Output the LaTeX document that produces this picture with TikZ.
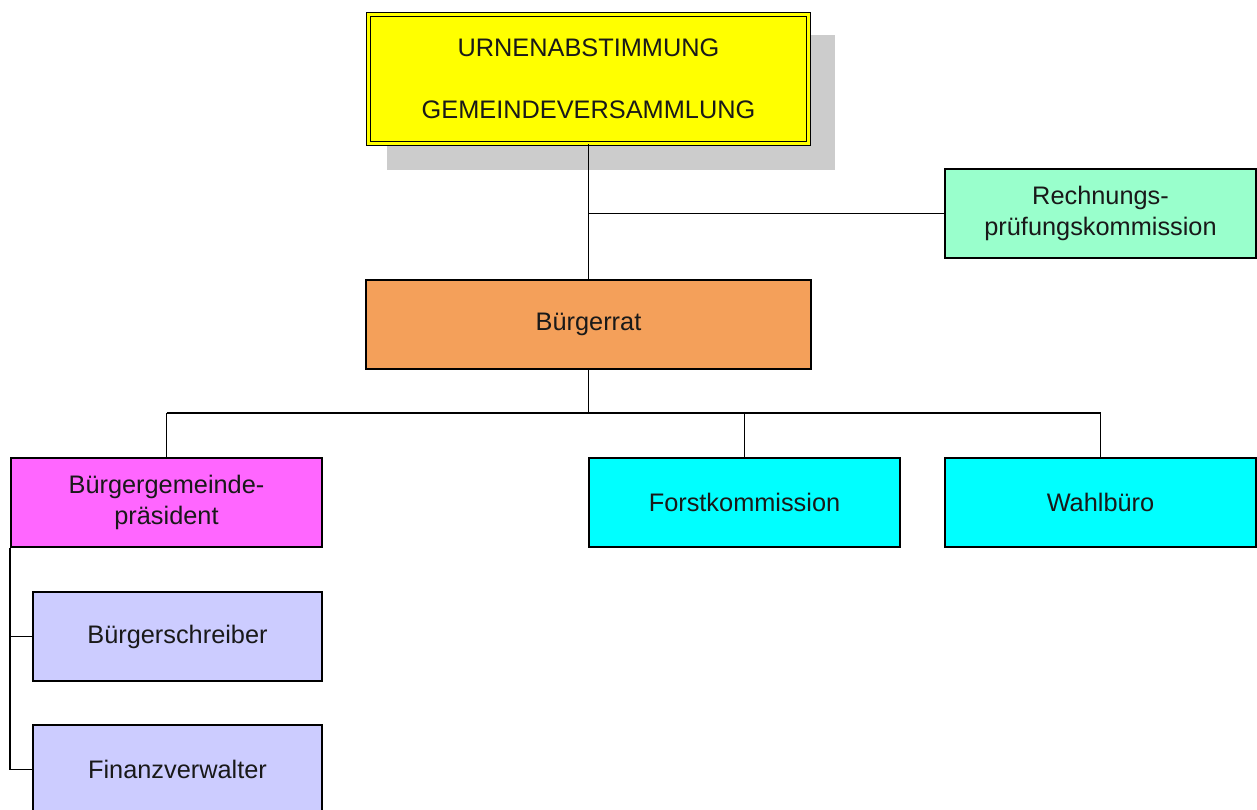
\documentclass[tikz,border=0pt]{standalone}
\usepackage{fontspec}
\setmainfont{Liberation Sans}
\usetikzlibrary{backgrounds}
\definecolor{cyellow}{RGB}{255,255,0}
\definecolor{cgreen}{RGB}{153,255,204}
\definecolor{corange}{RGB}{244,160,90}
\definecolor{cmagenta}{RGB}{255,102,255}
\definecolor{ccyan}{RGB}{0,255,255}
\definecolor{clav}{RGB}{204,204,255}
\definecolor{cshadow}{RGB}{204,204,204}
\tikzset{
  box/.style={draw=black, line width=1pt, rectangle, inner sep=0pt, align=center,
    font=\fontsize{19}{23.25}\selectfont, text=black!90},
  wide/.style={minimum width=333.75pt, minimum height=66.75pt},
  mid/.style={minimum width=233.25pt, minimum height=66.75pt},
  small/.style={minimum width=216.75pt, minimum height=66.75pt},
  conn/.style={draw=black, line width=1.4pt},
}
\begin{document}
\begin{tikzpicture}[x=0.75pt,y=-0.75pt]
\useasboundingbox (0,0) rectangle (1257,810);
% nodes
\node[box, minimum width=330pt, minimum height=96.7pt, fill=cyellow, double=cyellow, draw=black, double distance=2.2pt, line width=0.8pt] (top) at (588.5,79) {URNENABSTIMMUNG\\[23.25pt]GEMEINDEVERSAMMLUNG};
\node[box, mid, fill=cgreen] (rech) at (1100.5,213.5) {Rechnungs-\\prüfungskommission};
\node[box, wide, fill=corange] (rat) at (588.5,324.5) {Bürgerrat};
\node[box, mid, fill=cmagenta] (bgp) at (166.5,502.5) {Bürgergemeinde-\\präsident};
\node[box, mid, fill=ccyan] (forst) at (744.5,502.5) {Forstkommission};
\node[box, mid, fill=ccyan] (wahl) at (1100.5,502.5) {Wahlbüro};
\node[box, small, fill=clav] (schr) at (177.5,636.5) {Bürgerschreiber};
\node[box, small, fill=clav] (fin) at (177.5,769.5) {Finanzverwalter};
% shadow
\begin{pgfonlayer}{background}
\fill[cshadow] ([shift={(19.5,25.5)}]top.south west) rectangle ([shift={(25.5,20.5)}]top.north east);
\end{pgfonlayer}
% connectors
\coordinate (j1) at (top.south |- rech.west);
\coordinate (j2) at (588.5,413);
\coordinate (l) at (bgp.north |- j2);
\coordinate (r) at (wahl.north |- j2);
\coordinate (fj) at (forst.north |- j2);
\coordinate (b1) at (bgp.south west |- schr.west);
\coordinate (b2) at (bgp.south west |- fin.west);
\draw[conn] (top.south) -- (rat.north);
\draw[conn] (j1) -- (rech.west);
\draw[conn] (rat.south) -- (j2);
\draw[conn] (l) -- (r);
\draw[conn] (l) -- (bgp.north);
\draw[conn] (fj) -- (forst.north);
\draw[conn] (r) -- (wahl.north);
\draw[conn] (bgp.south west) -- (b2) -- (fin.west);
\draw[conn] (b1) -- (schr.west);
\end{tikzpicture}
\end{document}
